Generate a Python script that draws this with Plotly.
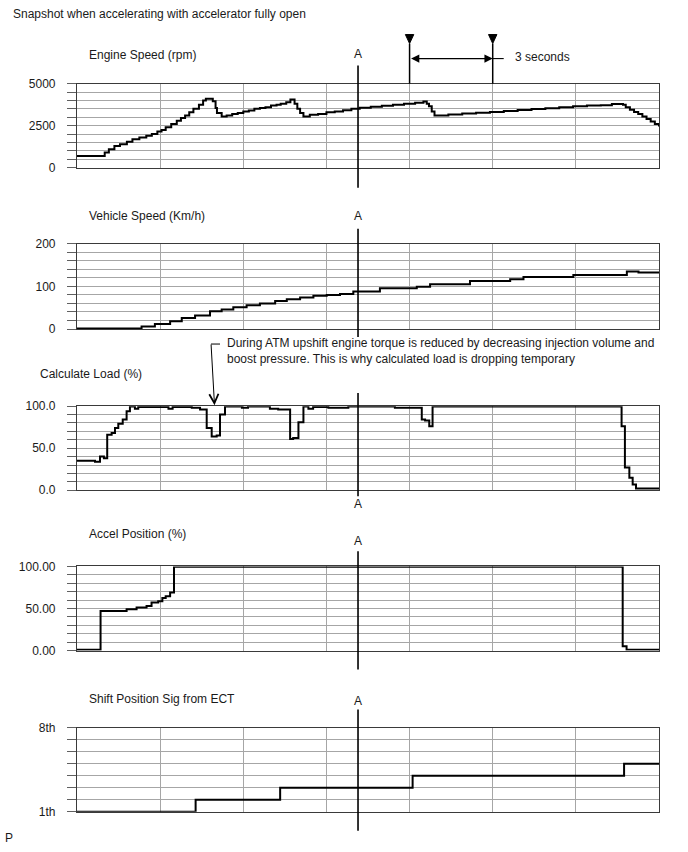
import plotly.graph_objects as go

# ---------------- data ----------------
engine_t = [0.0, 1.0, 1.15, 1.35, 1.55, 1.8, 2.0, 2.25, 2.5, 2.7, 2.9, 3.05, 3.2, 3.4, 3.6, 3.75,
            3.9, 4.05, 4.2, 4.4, 4.55, 4.65, 4.9, 5.0, 5.05, 5.22, 5.4, 5.6, 5.8, 6.0, 6.2, 6.4,
            6.6, 6.8, 7.0, 7.2, 7.35, 7.55, 7.7, 7.85, 7.95, 8.05, 8.17, 8.4, 8.7, 9.0, 9.3, 9.6,
            9.9, 10.2, 10.6, 11.0, 11.4, 11.8, 12.2, 12.5, 12.62, 12.7, 12.8, 12.9, 13.4, 13.9,
            14.4, 14.9, 15.4, 15.9, 16.4, 16.9, 17.4, 17.9, 18.4, 18.9, 19.3, 19.7, 19.8, 19.95,
            20.1, 20.25, 20.4, 20.55, 20.7, 20.85, 21.0]
engine_rpm = [700, 900, 1100, 1300, 1400, 1550, 1700, 1800, 1900, 2000, 2150, 2250, 2400, 2600, 2800, 2950,
              3100, 3300, 3500, 3750, 4000, 4100, 3950, 3550, 3250, 3050, 3100, 3200, 3250, 3350, 3400, 3500,
              3550, 3600, 3700, 3750, 3800, 3900, 4050, 3800, 3500, 3250, 3050, 3150, 3200, 3300, 3350, 3420,
              3500, 3560, 3620, 3680, 3740, 3800, 3860, 3930, 3800, 3650, 3350, 3100, 3160, 3220,
              3270, 3320, 3380, 3430, 3490, 3540, 3600, 3650, 3700, 3720, 3790, 3750, 3600, 3450,
              3320, 3200, 3050, 2900, 2750, 2600, 2450]

vspeed_t = [0, 2.33, 2.81, 3.36, 3.78, 4.26, 4.80, 5.22, 5.64, 6.12, 6.60, 7.15, 7.57, 8.05, 8.53,
            9.01, 9.49, 9.97, 10.93, 12.26, 12.74, 14.18, 15.63, 16.11, 17.91, 19.84, 20.26, 21.0]
vspeed_kmh = [1, 6, 12, 18, 26, 32, 42, 46, 51, 56, 60, 66, 70, 74, 78,
              80, 82, 88, 96, 99, 105, 113, 117, 122, 127, 135, 133, 133]

load_t = [0, 0.65, 0.83, 0.97, 1.09, 1.25, 1.37, 1.49, 1.65, 1.79, 1.91, 2.09, 2.21, 3.30, 3.45,
          4.14, 4.44, 4.68, 4.86, 5.04, 5.16, 5.34, 5.95, 6.17, 6.96, 7.26, 7.69, 7.80, 7.99, 8.17,
          8.35, 8.52, 9.07, 9.79, 11.47, 12.44, 12.56, 12.71, 12.83, 19.65, 19.77, 19.93, 20.05,
          20.17, 21.0]
load_pct = [35, 34, 40, 38, 66, 68, 74, 79, 84, 94, 99.5, 97, 99, 97, 99,
            98, 96, 74, 64, 65, 90, 99.5, 98, 99.5, 97, 96, 61, 62, 81, 99.5,
            97, 99, 98, 99.5, 98, 84, 83, 76, 99.5, 76, 27, 15, 7,
            2, 2]

accel_t = [0, 0.85, 1.79, 2.15, 2.51, 2.69, 2.93, 3.08, 3.20, 3.36, 3.50, 19.69, 19.83, 21.0]
accel_pct = [1, 47, 49, 51, 53, 57, 58.5, 62.5, 64.5, 69, 99.5, 5, 1, 1]

shift_t = [0, 4.28, 7.33, 12.11, 19.74, 21.0]
shift_gear = [1, 2, 3, 4, 5, 5]

A_TIME = 10.14
MARKER_TIMES = [12, 15]
T_RANGE = [0, 21]

panel_titles = ["Engine Speed (rpm)", "Vehicle Speed (Km/h)", "Calculate Load (%)",
                "Accel Position (%)", "Shift Position Sig from ECT"]
y_ranges = [[0, 5000], [0, 200], [0, 100], [0, 100], [1, 8]]
y_steps = [500, 20, 10, 10, 1]
y_labels = [{0: "0", 2500: "2500", 5000: "5000"},
            {0: "0", 100: "100", 200: "200"},
            {0: "0.0", 50: "50.0", 100: "100.0"},
            {0: "0.00", 50: "50.00", 100: "100.00"},
            {1: "1th", 8: "8th"}]
series = [(engine_t, engine_rpm), (vspeed_t, vspeed_kmh), (load_t, load_pct),
          (accel_t, accel_pct), (shift_t, shift_gear)]

# ---------------- layout geometry (target pixels on the captured page) ----------------
W, H = 688, 852
Y_SCALE, Y_SHIFT = 0.982, 6.5   # observed vertical mapping of the capture

PLOT_L, PLOT_R = 77, 659
panel_px = [(83, 167), (243, 328), (405, 489), (565, 649), (726, 810)]
title_px = [(87, 54), (87, 215), (38, 373), (87, 533), (87, 697)]
a_line_px = [(65, 187), (228, 336), (392, 495), (550, 668), (708, 829)]
a_label_py = [53, 215, 503, 540, 699]


def fx(p):
    return p / W


def fy(p):
    return 1 - ((p - Y_SHIFT) / Y_SCALE) / H


FONT = "Liberation Sans, Arial, sans-serif"
GRID = "#a6a6a6"
FRAME = "#3a3a3a"

fig = go.Figure()
layout = dict(width=W, height=H, margin=dict(l=0, r=0, t=0, b=0),
              paper_bgcolor="white", plot_bgcolor="white", showlegend=False,
              font=dict(family=FONT, size=12, color="#1a1a1a"))

for i, ((xs, ys), rng, step, labs, (top, bot)) in enumerate(
        zip(series, y_ranges, y_steps, y_labels, panel_px)):
    n = i + 1
    xa = "xaxis" if n == 1 else f"xaxis{n}"
    ya = "yaxis" if n == 1 else f"yaxis{n}"
    xr = "x" if n == 1 else f"x{n}"
    yr = "y" if n == 1 else f"y{n}"
    fig.add_trace(go.Scatter(x=xs, y=ys, mode="lines", line=dict(shape="hv", color="black", width=2),
                             xaxis=xr, yaxis=yr, hoverinfo="skip"))
    vals = []
    v = rng[0]
    while v <= rng[1] + 1e-9:
        vals.append(v)
        v += step
    texts = [labs.get(v, "") for v in vals]
    layout[xa] = dict(domain=[fx(PLOT_L), fx(PLOT_R)], range=T_RANGE, anchor=yr,
                      showgrid=True, gridcolor=GRID, gridwidth=1, dtick=3, tick0=0,
                      showticklabels=False, ticks="", zeroline=False,
                      showline=True, mirror=True, linecolor=FRAME, linewidth=1.2,
                      fixedrange=True)
    if n > 1:
        layout[xa]["matches"] = "x"
    layout[ya] = dict(domain=[fy(bot), fy(top)], range=rng, anchor=xr,
                      tickmode="array", tickvals=vals, ticktext=texts,
                      showgrid=True, gridcolor=GRID, gridwidth=1, zeroline=False,
                      ticks="outside", ticklen=9, tickcolor="#606060", tickwidth=1,
                      ticklabelstandoff=9, tickfont=dict(size=12, color="#1a1a1a"),
                      showline=True, mirror=True, linecolor=FRAME, linewidth=1.2,
                      fixedrange=True)

fig.update_layout(**layout)

shapes = []
annotations = []

annotations.append(dict(text="Snapshot when accelerating with accelerator fully open",
                        xref="paper", yref="paper", x=fx(11), y=fy(13), xanchor="left",
                        yanchor="middle", showarrow=False, font=dict(size=12)))
for t, (tx, ty) in zip(panel_titles, title_px):
    annotations.append(dict(text=t, xref="paper", yref="paper", x=fx(tx), y=fy(ty),
                            xanchor="left", yanchor="middle", showarrow=False, font=dict(size=12)))
annotations.append(dict(text="P", xref="paper", yref="paper", x=fx(3), y=max(fy(843), 7 / H),
                        xanchor="left", yanchor="middle", showarrow=False, font=dict(size=12)))

# A cursor lines and labels
for (y0, y1), ly in zip(a_line_px, a_label_py):
    shapes.append(dict(type="line", xref="x", yref="paper", x0=A_TIME, x1=A_TIME,
                       y0=fy(y0), y1=fy(y1), line=dict(color="black", width=1.6)))
    annotations.append(dict(text="A", xref="x", yref="paper", x=A_TIME, y=fy(ly),
                            xanchor="center", yanchor="middle", showarrow=False, font=dict(size=12)))

# 3-second markers on top
px_per_s = (PLOT_R - PLOT_L) / (T_RANGE[1] - T_RANGE[0])
half = 4.2 / px_per_s
for mt in MARKER_TIMES:
    shapes.append(dict(type="path", xref="x", yref="paper",
                       path=f"M {mt - half},{fy(34)} L {mt + half},{fy(34)} L {mt},{fy(43)} Z",
                       fillcolor="black", line=dict(color="black", width=1)))
    shapes.append(dict(type="line", xref="x", yref="paper", x0=mt, x1=mt, y0=fy(43), y1=fy(83),
                       line=dict(color="black", width=1.5)))
annotations.append(dict(text="", xref="x", yref="paper", x=MARKER_TIMES[1], y=fy(58),
                        axref="x", ax=MARKER_TIMES[0], ayref="pixel", ay=0,
                        showarrow=True, arrowside="end+start", arrowhead=2, startarrowhead=2,
                        arrowsize=1.5, startarrowsize=1.5, arrowwidth=1.1, arrowcolor="black",
                        standoff=0, startstandoff=0))
shapes.append(dict(type="line", xref="x", yref="paper", x0=MARKER_TIMES[1],
                   x1=MARKER_TIMES[1] + 11 / px_per_s, y0=fy(58), y1=fy(58),
                   line=dict(color="black", width=1.1)))
annotations.append(dict(text="3 seconds", xref="x", yref="paper",
                        x=MARKER_TIMES[1] + 20 / px_per_s, y=fy(56),
                        xanchor="left", yanchor="middle", showarrow=False, font=dict(size=12)))

# Calculate load note
annotations.append(dict(text="During ATM upshift engine torque is reduced by decreasing injection volume and",
                        xref="paper", yref="paper", x=fx(225), y=fy(342), xanchor="left",
                        yanchor="middle", showarrow=False, font=dict(size=12)))
annotations.append(dict(text="boost pressure. This is why calculated load is dropping temporary",
                        xref="paper", yref="paper", x=fx(225), y=fy(358), xanchor="left",
                        yanchor="middle", showarrow=False, font=dict(size=12)))
shapes.append(dict(type="line", xref="paper", yref="paper", x0=fx(211), x1=fx(220),
                   y0=fy(343), y1=fy(343), line=dict(color="black", width=1)))
annotations.append(dict(text="", xref="paper", yref="paper", x=fx(214.5), y=fy(404),
                        axref="pixel", ayref="pixel", ax=-3.5, ay=-61 / Y_SCALE,
                        showarrow=True, arrowhead=5, arrowsize=1.8, arrowwidth=1,
                        arrowcolor="black", standoff=0))

fig.update_layout(shapes=shapes, annotations=annotations)
fig.write_html("out.html")
